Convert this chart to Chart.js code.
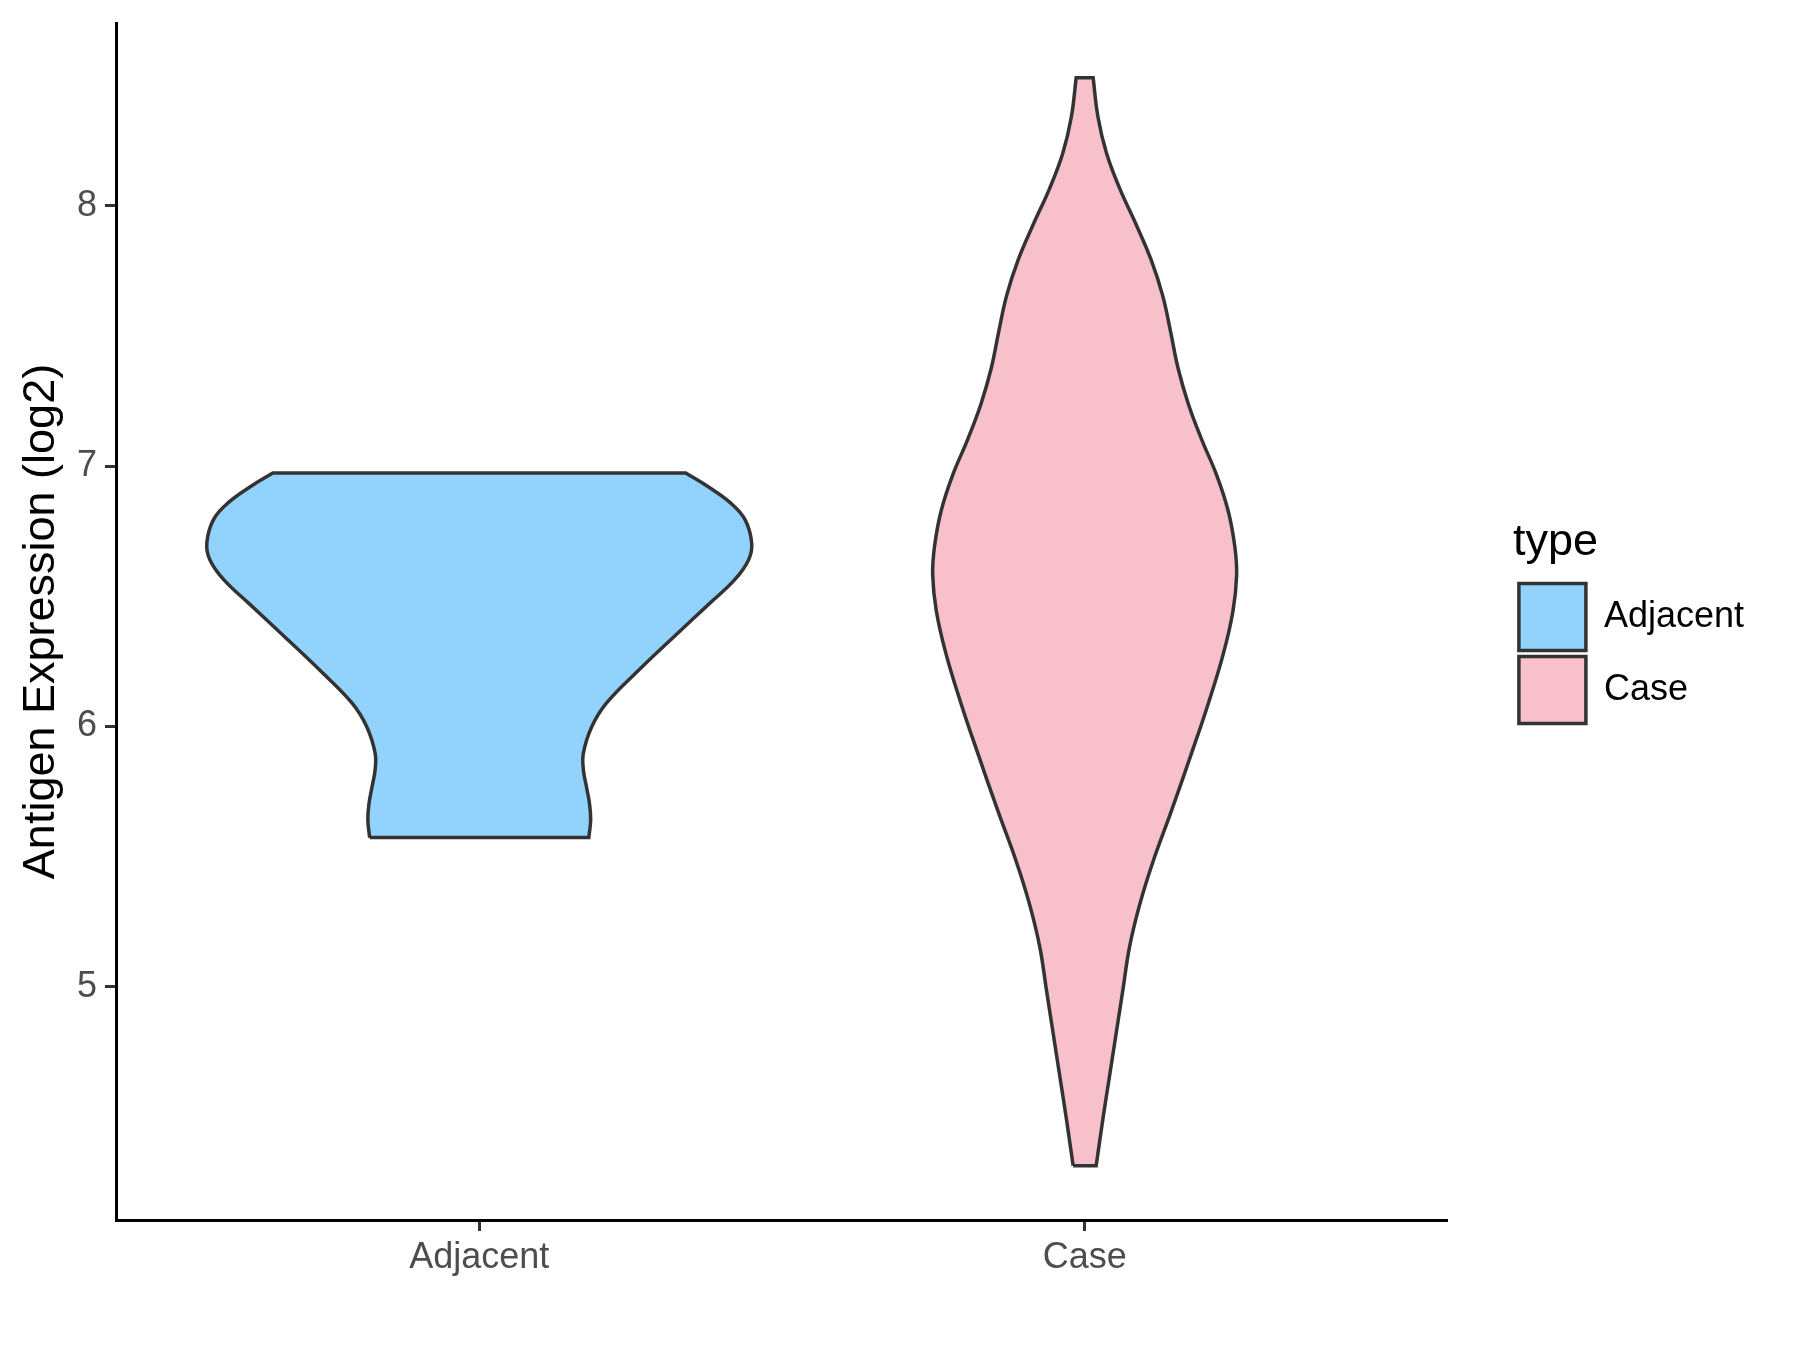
<!DOCTYPE html>
<html>
<head>
<title>Antigen Expression violin</title>
<script src="https://cdn.jsdelivr.net/npm/chart.js@4.4.1/dist/chart.umd.min.js"></script>
<style>
  body { margin: 0; background: #ffffff; }
  #wrap { width: 1800px; height: 1350px; }
</style>
</head>
<body>
<div id="wrap"><canvas id="violin"></canvas></div>

<script>
// groups on the x axis
var categories = ['Adjacent', 'Case'];
var yTicks = [5, 6, 7, 8];

// violin outlines: value (log2) and half width (category units)
var adjacentValues = [5.574, 5.642, 5.706, 5.770, 5.834, 5.898, 6.000, 6.090, 6.218, 6.346, 6.474, 6.564, 6.641, 6.705, 6.795, 6.859, 6.923, 6.974];
var adjacentHalfWidth = [0.181, 0.184, 0.182, 0.177, 0.172, 0.172, 0.186, 0.210, 0.264, 0.322, 0.381, 0.422, 0.445, 0.450, 0.439, 0.415, 0.377, 0.341];

var caseValues = [4.313, 4.491, 4.656, 4.821, 4.986, 5.152, 5.317, 5.482, 5.674, 5.894, 6.087, 6.279, 6.444, 6.582, 6.692, 6.829, 6.966, 7.104, 7.241, 7.379, 7.516, 7.654, 7.791, 7.928, 8.066, 8.203, 8.341, 8.492];
var caseHalfWidth = [0.019, 0.030, 0.041, 0.052, 0.063, 0.074, 0.091, 0.113, 0.143, 0.176, 0.204, 0.229, 0.245, 0.251, 0.248, 0.237, 0.218, 0.193, 0.171, 0.154, 0.142, 0.129, 0.110, 0.085, 0.058, 0.036, 0.022, 0.014];

var fillColors = ['#92D3FE', '#F7C0CB'];
var lineColor = '#333333';
var fontFamily = "'Liberation Sans', Arial, sans-serif";

// closed outline: bottom edge, right side up, top edge, left side down
// every corner point is given twice so the spline keeps it sharp
function outline(center, values, half) {
  var pts = [];
  var n = values.length;
  pts.push({x: center - half[0], y: values[0]});
  pts.push({x: center + half[0], y: values[0]});
  for (var i = 0; i < n; i++) pts.push({x: center + half[i], y: values[i]});
  pts.push({x: center + half[n - 1], y: values[n - 1]});
  pts.push({x: center - half[n - 1], y: values[n - 1]});
  for (i = n - 1; i >= 0; i--) pts.push({x: center - half[i], y: values[i]});
  return pts;
}

// empty box between plot and legend (ggplot leaves a gap there)
var legendGap = {
  id: 'legendGap',
  beforeInit: function(chart) {
    Chart.layouts.addBox(chart, {
      position: 'right',
      weight: 500,
      options: {},
      isHorizontal: function() { return false; },
      update: function(w, h) { this.width = 65; this.height = h; },
      draw: function() {}
    });
  }
};

var ctx = document.getElementById('violin').getContext('2d');
var chart = new Chart(ctx, {
  type: 'scatter',
  data: {
    datasets: [
      {
        label: categories[0],
        data: outline(1, adjacentValues, adjacentHalfWidth),
        showLine: true,
        fill: 'shape',
        backgroundColor: fillColors[0],
        borderColor: lineColor,
        borderWidth: 3.5,
        tension: 0.4,
        pointRadius: 0
      },
      {
        label: categories[1],
        data: outline(2, caseValues, caseHalfWidth),
        showLine: true,
        fill: 'shape',
        backgroundColor: fillColors[1],
        borderColor: lineColor,
        borderWidth: 3.5,
        tension: 0.4,
        pointRadius: 0
      }
    ]
  },
  options: {
    responsive: true,
    maintainAspectRatio: false,
    animation: false,
    events: [],
    layout: { padding: { top: 23, right: 46, bottom: 0, left: 0 } },
    scales: {
      x: {
        type: 'linear',
        min: 0.4,
        max: 2.6,
        afterBuildTicks: function(s) {
          s.ticks = categories.map(function(c, i) { return {value: i + 1}; });
        },
        afterFit: function(s) { s.height = 130; s.paddingLeft = 0; s.paddingRight = 0; },
        border: { display: true, color: '#000000', width: 3 },
        grid: { display: true, drawOnChartArea: false, drawTicks: true, tickLength: 11, tickWidth: 3, tickColor: lineColor },
        ticks: {
          autoSkip: false,
          maxRotation: 0,
          padding: 5,
          color: '#4D4D4D',
          font: { family: fontFamily, size: 36 },
          callback: function(v, i) { return categories[i]; }
        }
      },
      y: {
        min: 4.105,
        max: 8.702,
        afterBuildTicks: function(s) {
          s.ticks = yTicks.map(function(v) { return {value: v}; });
        },
        // fixed width, and no extra room for half tick labels at the ends
        afterFit: function(s) { s.width = 116; s.paddingTop = 0; s.paddingBottom = 0; },
        border: { display: true, color: '#000000', width: 3 },
        grid: { display: true, drawOnChartArea: false, drawTicks: true, tickLength: 11, tickWidth: 3, tickColor: lineColor },
        ticks: {
          padding: 8,
          color: '#4D4D4D',
          font: { family: fontFamily, size: 36 }
        },
        title: {
          display: true,
          text: 'Antigen Expression (log2)',
          color: '#000000',
          font: { family: fontFamily, size: 45 },
          padding: { top: 15, bottom: 0 }
        }
      }
    },
    plugins: {
      tooltip: { enabled: false },
      legend: {
        position: 'right',
        align: 'center',
        fullSize: false,
        title: {
          display: true,
          text: 'type',
          position: 'start',
          color: '#000000',
          font: { family: fontFamily, size: 45 },
          padding: { top: 7, bottom: 3 }
        },
        labels: {
          boxWidth: 67,
          boxHeight: 67,
          padding: 6,
          color: '#000000',
          font: { family: fontFamily, size: 36 }
        }
      }
    }
  },
  plugins: [legendGap]
});
</script>
</body>
</html>
